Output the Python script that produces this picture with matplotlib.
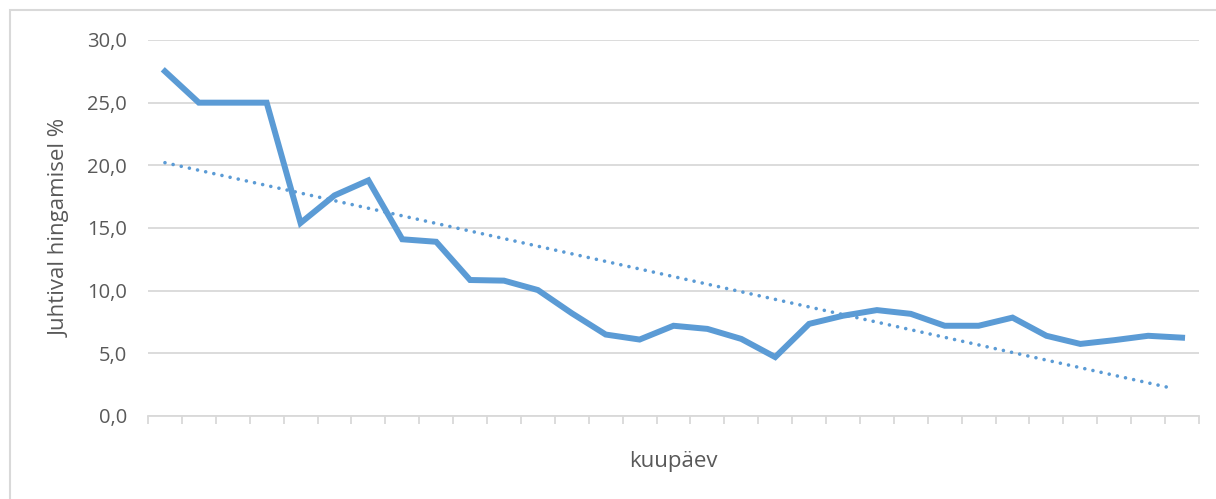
import matplotlib.pyplot as plt
import numpy as np
from matplotlib.patches import Rectangle

# values (31 dates, labels not shown)
days = list(range(1, 32))
values = [27.5, 25.0, 25.0, 25.0, 15.4, 17.6, 18.8, 14.1, 13.9, 10.85,
          10.8, 10.05, 8.2, 6.5, 6.1, 7.2, 6.95, 6.15, 4.7, 7.35,
          8.0, 8.45, 8.15, 7.2, 7.2, 7.85, 6.4, 5.75, 6.05, 6.4, 6.25]
yticks = [0, 5, 10, 15, 20, 25, 30]

plt.rcParams['font.family'] = ['Open Sans', 'DejaVu Sans']
text_col = '#595959'
blue = '#5B9BD5'
grid_col = '#D9D9D9'

fig = plt.figure(figsize=(12.16, 4.99), dpi=100)
ax = fig.add_axes([148 / 1216, 1 - 416 / 499, (1199 - 148) / 1216, (416 - 40) / 499])

# outer chart border
fig.patches.append(Rectangle((10 / 1216, -0.01), 1.2, 1 - 10 / 499 + 0.01,
                             transform=fig.transFigure, fill=False,
                             edgecolor=grid_col, linewidth=1.5))

ax.plot(days, values, color=blue, linewidth=4.3, solid_joinstyle='miter', zorder=3)

# linear trendline
k, b = np.polyfit(days, values, 1)
trend_x = np.array([days[0], days[-1] - 0.25])
ax.plot(trend_x, k * trend_x + b, color=blue, linewidth=2.6,
        linestyle=(0, (0.01, 2.3)), dash_capstyle='round', zorder=2)

ax.set_xlim(0.5, 31.5)
ax.set_ylim(0, 30)
ax.set_yticks(yticks)
ax.set_yticklabels([f'{v:.1f}'.replace('.', ',') for v in yticks])
ax.set_xticks(np.arange(0.5, 32, 1))
ax.set_xticklabels([])

ax.grid(axis='y', color=grid_col, linewidth=1.3)
ax.set_axisbelow(True)
for s in ['top', 'right', 'left']:
    ax.spines[s].set_visible(False)
ax.spines['bottom'].set_color(grid_col)
ax.spines['bottom'].set_linewidth(1.3)
ax.tick_params(axis='x', length=6, width=1.3, color=grid_col)
ax.tick_params(axis='y', length=0, pad=15, labelsize=14.5, labelcolor=text_col)

ax.set_ylabel('Juhtival hingamisel %', fontsize=16, color=text_col, labelpad=12)
ax.set_xlabel('kuupäev', fontsize=16, color=text_col, labelpad=16)

fig.savefig('out.png', dpi=100)
